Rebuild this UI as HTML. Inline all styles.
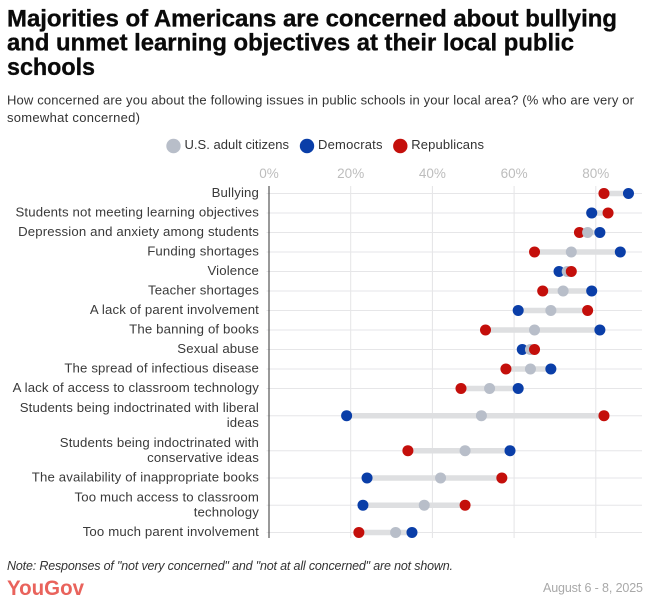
<!DOCTYPE html>
<html lang="en">
<head>
<meta charset="utf-8">
<title>Majorities of Americans are concerned about bullying</title>
<style>
html,body{margin:0;padding:0;background:#fff;width:658px;height:602px;overflow:hidden}
svg{display:block;font-family:"Liberation Sans",Arial,sans-serif}
</style>
</head>
<body>
<svg id="chart" xmlns="http://www.w3.org/2000/svg" width="658" height="602" viewBox="0 0 658 602">
  <rect width="658" height="602" fill="#fff"/>
  <g font-size="24" font-weight="700" fill="#0a0a0a" stroke="#0a0a0a" stroke-width="0.35">
    <text x="7" y="26.5" textLength="610" lengthAdjust="spacingAndGlyphs">Majorities of Americans are concerned about bullying</text>
    <text x="7" y="50.5" textLength="567" lengthAdjust="spacingAndGlyphs">and unmet learning objectives at their local public</text>
    <text x="7" y="75" textLength="88" lengthAdjust="spacingAndGlyphs">schools</text>
  </g>
  <g font-size="13" fill="#333">
    <text x="7" y="104.5" textLength="627" lengthAdjust="spacing">How concerned are you about the following issues in public schools in your local area? (% who are very or</text>
    <text x="7" y="122" textLength="133" lengthAdjust="spacing">somewhat concerned)</text>
  </g>
  <g font-size="13" fill="#333">
    <circle cx="173.5" cy="146" r="7.2" fill="#b8bec9"/>
    <text x="184.5" y="149" textLength="104.5" lengthAdjust="spacing">U.S. adult citizens</text>
    <circle cx="307" cy="146" r="7.2" fill="#0a3ea8"/>
    <text x="318" y="149" textLength="64.5" lengthAdjust="spacing">Democrats</text>
    <circle cx="400.3" cy="146" r="7.2" fill="#c40f0b"/>
    <text x="411.3" y="149" textLength="72.7" lengthAdjust="spacing">Republicans</text>
  </g>
  <g id="plot"></g>
  <text x="7" y="570" font-size="12.5" font-style="italic" fill="#333" textLength="446" lengthAdjust="spacing">Note: Responses of "not very concerned" and "not at all concerned" are not shown.</text>
  <text x="7" y="595" font-size="21" font-weight="700" fill="#e9635c" textLength="77" lengthAdjust="spacingAndGlyphs">YouGov</text>
  <text x="643" y="592" font-size="12.5" fill="#a9a9a9" text-anchor="end" textLength="100" lengthAdjust="spacing">August 6 - 8, 2025</text>
</svg>
<script>
const categories = [
  "Bullying",
  "Students not meeting learning objectives",
  "Depression and anxiety among students",
  "Funding shortages",
  "Violence",
  "Teacher shortages",
  "A lack of parent involvement",
  "The banning of books",
  "Sexual abuse",
  "The spread of infectious disease",
  "A lack of access to classroom technology",
  "Students being indoctrinated with liberal\nideas",
  "Students being indoctrinated with\nconservative ideas",
  "The availability of inappropriate books",
  "Too much access to classroom\ntechnology",
  "Too much parent involvement"
];
const usAdults    = [82, 79, 78, 74, 73, 72, 69, 65, 64, 64, 54, 52, 48, 42, 38, 31];
const democrats   = [88, 79, 81, 86, 71, 79, 61, 81, 62, 69, 61, 19, 59, 24, 23, 35];
const republicans = [82, 83, 76, 65, 74, 67, 78, 53, 65, 58, 47, 82, 34, 57, 48, 22];
const tickValues  = [0, 20, 40, 60, 80];
const tickLabels  = ["0%", "20%", "40%", "60%", "80%"];

const NS = "http://www.w3.org/2000/svg";
const plot = document.getElementById("plot");
function make(tag, attrs, parent) {
  const el = document.createElementNS(NS, tag);
  for (const k in attrs) el.setAttribute(k, attrs[k]);
  parent.appendChild(el);
  return el;
}
function xScale(v) { return 269 + v * 4.085; }

const plotTop = 186, plotBottom = 538, plotRight = 642;
const rowCentres = [];
let cursor = 183.7;
categories.forEach(function (c) {
  const h = c.indexOf("\n") >= 0 ? 35 : 19.5;
  rowCentres.push(cursor + h / 2);
  cursor += h;
});
function yScale(i) { return rowCentres[i]; }

tickValues.forEach(function (v, i) {
  const x = xScale(v);
  if (v !== 0) {
    const g = make("line", {x1: x, x2: x, y1: plotTop, y2: plotBottom, stroke: "#e4e4e6", "stroke-width": 1}, plot);
    
    
  }
  const t = make("text", {x: x, y: 178, "text-anchor": "middle", "font-size": 13.5, fill: "#bdbdbd"}, plot);
  
  
  t.textContent = tickLabels[i];
});

categories.forEach(function (c, i) {
  const y = yScale(i);
  const g = make("line", {x1: 266.5, x2: plotRight, y1: y, y2: y, stroke: "#e6e6e8", "stroke-width": 1}, plot);
  
  
  const lines = c.split("\n");
  lines.forEach(function (ln, k) {
    const offset = 3.7 + (k - (lines.length - 1) / 2) * 15;
    const t = make("text", {x: 259, y: y + offset, "text-anchor": "end", "font-size": 13.2, fill: "#3a3a3a", "letter-spacing": "0.15"}, plot);
    
    
    t.textContent = ln;
  });
});

const axis = make("line", {x1: 269, x2: 269, y1: plotTop, y2: plotBottom, stroke: "#333", "stroke-width": 1}, plot);



categories.forEach(function (c, i) {
  const y = yScale(i);
  const lo = Math.min(usAdults[i], democrats[i], republicans[i]);
  const hi = Math.max(usAdults[i], democrats[i], republicans[i]);
  const bar = make("line", {x1: xScale(lo), x2: xScale(hi), y1: y, y2: y, stroke: "#dedfe1", "stroke-width": 5.5}, plot);
  
  
  const marks = [
    {value: usAdults[i], fill: "#b8bec9", name: "point-us-adults", rank: 0},
    {value: democrats[i], fill: "#0a3ea8", name: "point-democrats", rank: 1},
    {value: republicans[i], fill: "#c40f0b", name: "point-republicans", rank: 2}
  ];
  marks.sort(function (a, b) { return a.value - b.value || a.rank - b.rank; });
  marks.forEach(function (m) {
    const dot = make("circle", {cx: xScale(m.value), cy: y, r: 5.5, fill: m.fill}, plot);
    
    
  });
});
</script>
</body>
</html>
